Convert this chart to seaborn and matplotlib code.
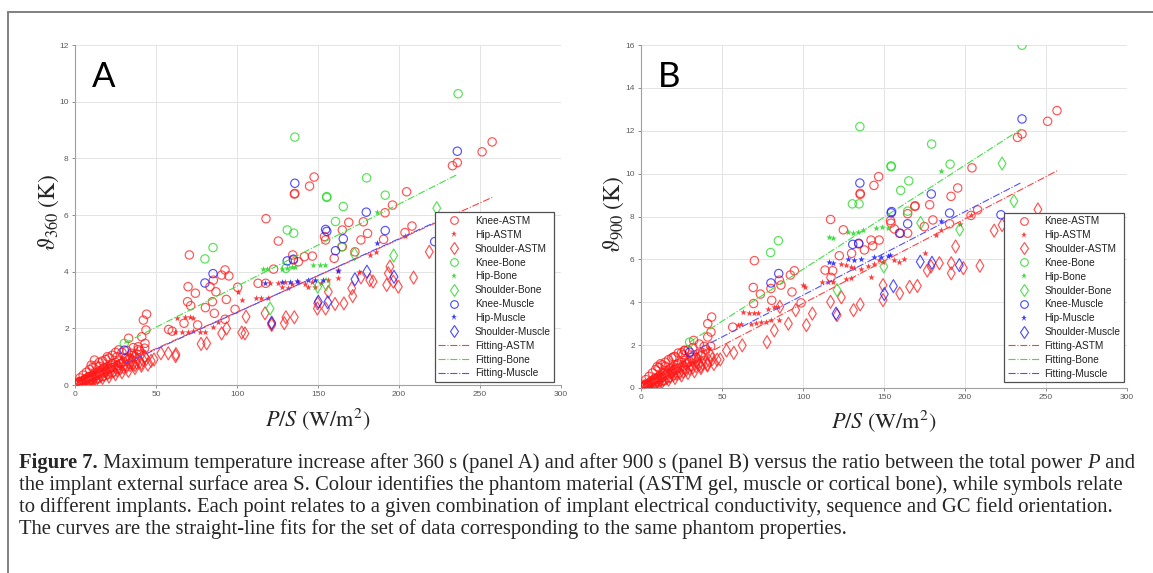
import matplotlib
matplotlib.use("Agg")
import matplotlib.pyplot as plt
import seaborn as sns
from matplotlib.lines import Line2D
from matplotlib.patches import Rectangle

# ---------------- Panel A : theta_360 (K) vs P/S (W/m2) ----------------
a_knee_astm_x = [1, 2, 3, 4, 5, 6, 7, 8, 9, 10, 11, 12, 13, 14, 15, 16, 17, 18, 19, 20, 21, 22, 23, 24, 25, 27, 29, 31, 33, 35, 37, 40, 43,
                 2.5, 4.5, 6.5, 8.5, 10.5, 12.5, 14.5, 16.5, 18.5, 20.5, 22.5, 26, 28, 30, 34, 38, 10, 12, 15, 20, 25, 27,
                 3, 5, 7, 9, 11, 13, 15, 17, 19, 21, 23, 26, 29, 32, 36, 39, 4, 6, 8, 11, 14, 17, 20, 23, 27, 31, 35,
                 33.1, 35, 39, 41.2, 43.2, 42.2, 43.8, 44.2, 57.8, 60, 67.3, 69.5, 69.8, 70.6, 71.4, 74.3, 75.7, 80.5, 83.3, 84.8,
                 85.4, 86, 87, 90.5, 92.6, 92.6, 93.4, 95, 98.8, 100.4, 113, 117.7, 117.9, 122.6, 125.5, 134.4, 134.8, 135.4,
                 135.7, 137.9, 141.6, 144.8, 146.5, 147.6, 154, 154.7, 160, 165, 165, 169, 172.8, 176.5, 178, 180.6, 190.5,
                 191.4, 196, 203.7, 204.7, 208, 233, 236, 251.3, 257.5]
a_knee_astm_y = [0.03, 0.06, 0.10, 0.12, 0.15, 0.20, 0.18, 0.25, 0.30, 0.28, 0.35, 0.40, 0.33, 0.45, 0.50, 0.42, 0.55, 0.60, 0.50, 0.65,
                 0.58, 0.70, 0.75, 0.62, 0.80, 0.85, 0.78, 0.95, 0.90, 1.05, 1.00, 1.20, 1.30,
                 0.12, 0.10, 0.22, 0.30, 0.20, 0.32, 0.38, 0.50, 0.45, 0.55, 0.62, 0.68, 0.75, 0.82, 0.95, 1.10, 0.70, 0.88, 0.80, 1.00, 1.15, 1.24,
                 0.25, 0.35, 0.45, 0.55, 0.62, 0.70, 0.66, 0.85, 0.90, 0.95, 1.05, 1.00, 1.15, 1.22, 1.32, 1.25, 0.02, 0.05, 0.10, 0.15, 0.22, 0.30, 0.38, 0.45, 0.55, 0.65, 0.72,
                 1.65, 1.12, 1.35, 1.70, 1.47, 2.29, 1.94, 2.50, 1.96, 1.90, 2.18, 2.94, 3.47, 4.59, 2.80, 3.24, 2.12, 2.73, 3.47, 2.94,
                 3.70, 2.53, 3.29, 3.88, 4.06, 2.32, 3.02, 3.85, 2.67, 3.45, 3.59, 3.59, 5.87, 4.09, 5.08, 4.59, 4.41, 6.74,
                 6.76, 4.35, 4.53, 7.02, 4.55, 7.34, 5.24, 5.12, 4.47, 5.47, 4.88, 5.74, 4.70, 5.12, 5.76, 5.35, 5.14,
                 6.08, 6.35, 5.38, 6.82, 5.61, 7.74, 7.85, 8.23, 8.58]

a_hip_astm_x = [1.5, 3, 5, 7, 9, 11, 13, 15, 17, 19, 21, 24, 27, 30, 33, 36, 4, 8, 12, 16, 20, 25, 29, 34, 38, 42,
                61.7, 65.8, 70, 73, 77, 80, 62.8, 67.9, 71, 73, 85.4, 88.5, 100.8, 103, 112, 115, 119, 120.4, 125.5, 129.6,
                133.7, 137.9, 142, 146, 152, 156, 162.5, 127.6, 131.7, 144, 148, 162.5, 175, 182, 186, 203.7]
a_hip_astm_y = [0.05, 0.08, 0.14, 0.20, 0.25, 0.30, 0.36, 0.42, 0.46, 0.52, 0.58, 0.66, 0.72, 0.80, 0.88, 0.95,
                0.15, 0.30, 0.45, 0.55, 0.70, 0.80, 0.95, 1.05, 1.10, 1.20,
                1.88, 1.88, 1.86, 1.90, 1.88, 1.86, 2.38, 2.40, 2.40, 2.36, 2.06, 2.24, 3.29, 3.00, 3.06, 3.06, 3.08, 3.60, 3.60, 3.62,
                3.58, 3.62, 3.58, 3.62, 3.60, 3.70, 3.76, 3.47, 3.42, 3.47, 3.47, 4.06, 4.00, 4.59, 4.70, 5.26]

a_sh_astm_x = [2, 4, 6, 8, 10, 12, 14, 16, 18, 20, 22, 24, 26, 28, 30, 32, 34, 36, 38, 40, 42, 44, 37, 41,
               5, 9, 13, 17, 21, 25, 29, 33, 37, 41, 45, 47, 11, 19, 27, 35, 43,
               48.8, 53, 57.6, 62.3, 62.1, 77.8, 81.3, 90.5, 93.6, 102.9, 104.9, 105.6, 117.3, 121.4, 121.4, 129.2, 130.2,
               135.4, 149.6, 149.8, 154.7, 156.4, 160.5, 166, 170.8, 171.4, 176.5, 182, 184, 192.4, 193.4, 194.4, 196.5,
               199.6, 209, 218.7]
a_sh_astm_y = [0.04, 0.08, 0.12, 0.16, 0.20, 0.24, 0.27, 0.32, 0.36, 0.40, 0.45, 0.48, 0.52, 0.58, 0.62, 0.66, 0.70, 0.75, 0.78, 0.82,
               0.88, 0.92, 0.70, 0.76,
               0.05, 0.12, 0.18, 0.25, 0.30, 0.38, 0.45, 0.50, 0.60, 0.68, 0.72, 0.85, 0.28, 0.48, 0.62, 0.85, 1.00,
               0.90, 1.12, 1.12, 1.09, 1.02, 1.45, 1.47, 1.82, 2.00, 1.85, 1.82, 2.41, 2.53, 2.12, 2.16, 2.18, 2.39,
               2.39, 2.70, 2.88, 2.70, 3.29, 2.86, 2.88, 3.41, 3.14, 3.80, 3.70, 3.65, 3.53, 3.94, 4.18, 3.65,
               3.47, 3.79, 4.70]

a_knee_bone_x = [30.4, 80.2, 85.2, 130.2, 131, 135, 135.7, 155.4, 155.4, 160.8, 164.6, 165.6, 180, 191.5, 236.5]
a_knee_bone_y = [1.47, 4.45, 4.85, 4.12, 5.47, 5.36, 8.75, 6.62, 6.65, 5.77, 4.88, 6.30, 7.31, 6.70, 10.28]
a_hip_bone_x = [116.3, 118.3, 127.6, 130.7, 133.7, 135.8, 147, 151, 154.4, 186.2]
a_hip_bone_y = [4.08, 4.08, 4.10, 4.12, 4.15, 4.15, 4.24, 4.24, 4.22, 6.12]
a_sh_bone_x = [120.4, 149.8, 155, 172.5, 196.7, 223.3]
a_sh_bone_y = [2.70, 3.47, 3.55, 4.62, 4.57, 6.24]

a_knee_mus_x = [30.4, 80.2, 85.2, 131, 134.8, 135.7, 154.7, 155.4, 160.8, 165.6, 179.8, 191.5, 222, 236]
a_knee_mus_y = [1.23, 3.60, 3.93, 4.38, 4.44, 7.12, 5.49, 5.42, 4.74, 5.16, 6.10, 5.45, 5.06, 8.25]
a_hip_mus_x = [117.3, 127.6, 132.7, 136.8, 144, 148, 153.3, 162.5, 186.2]
a_hip_mus_y = [3.60, 3.62, 3.65, 3.66, 3.70, 3.70, 3.72, 4.03, 5.00]
a_sh_mus_x = [121.4, 150.2, 156, 172.8, 180.2, 196.9]
a_sh_mus_y = [2.20, 2.94, 2.92, 3.73, 4.00, 3.82]

a_fit_astm_x, a_fit_astm_y = [0, 257.5], [0, 6.62]
a_fit_bone_x, a_fit_bone_y = [30.4, 236], [1.47, 7.43]
a_fit_mus_x, a_fit_mus_y = [30.4, 236], [0.75, 6.10]

# ---------------- Panel B : theta_900 (K) vs P/S (W/m2) ----------------
b_knee_astm_x = [1, 2, 3, 4, 5, 6, 7, 8, 9, 10, 11, 12, 13, 14, 15, 16, 17, 18, 19, 20, 21, 22, 23, 24, 25, 27, 29, 31, 33, 35, 37, 40, 43,
                 2.5, 4.5, 6.5, 8.5, 10.5, 12.5, 14.5, 16.5, 18.5, 20.5, 22.5, 26, 28, 30, 34, 38, 10, 12, 15, 20, 25, 27,
                 3, 5, 7, 9, 11, 13, 15, 17, 19, 21, 23, 26, 29, 32, 36, 39, 4, 6, 8, 11, 14, 17, 20, 23, 27, 31, 35,
                 26.7, 32.5, 41.2, 43.2, 41.2, 43.6, 56.6, 69.3, 69.5, 70, 73.7, 80.2, 80.7, 85.4, 86.4, 92.2, 93.2, 94.7, 98.8,
                 113.6, 117.3, 118.3, 117, 122.4, 124.9, 130, 134.4, 135.3, 135.3, 137.9, 142, 143, 143.8, 146.7, 147, 154,
                 154.3, 156.4, 159.5, 164.6, 164.6, 169, 169.2, 174.9, 178.2, 180.2, 190.5, 191.4, 195.5, 203.7, 204.3, 207.8,
                 232.4, 235.2, 251, 256.8]
b_knee_astm_y = [0.05, 0.09, 0.15, 0.18, 0.22, 0.30, 0.27, 0.38, 0.45, 0.42, 0.52, 0.60, 0.50, 0.68, 0.75, 0.63, 0.82, 0.90, 0.75, 0.98,
                 0.87, 1.05, 1.12, 0.93, 1.20, 1.28, 1.17, 1.42, 1.35, 1.58, 1.50, 1.80, 1.95,
                 0.18, 0.15, 0.33, 0.45, 0.30, 0.48, 0.57, 0.75, 0.68, 0.82, 0.93, 1.02, 1.12, 1.23, 1.42, 1.65, 1.00, 1.13, 1.20, 1.45, 1.65, 1.75,
                 0.39, 0.54, 0.70, 0.85, 0.96, 1.08, 1.02, 1.32, 1.40, 1.47, 1.63, 1.55, 1.78, 1.89, 2.05, 1.94, 0.03, 0.08, 0.16, 0.23, 0.34, 0.47, 0.59, 0.70, 0.85, 1.01, 1.12,
                 1.75, 2.22, 2.38, 2.61, 3.00, 3.31, 2.84, 4.69, 3.94, 5.94, 4.38, 4.64, 4.09, 5.03, 4.80, 5.27, 4.48, 5.47, 3.97,
                 5.50, 5.16, 5.47, 7.86, 6.17, 7.38, 6.28, 6.72, 9.03, 9.08, 6.44, 6.90, 6.63, 9.45, 9.86, 6.90, 7.81,
                 7.69, 7.42, 7.22, 7.22, 8.13, 8.47, 8.50, 7.53, 8.55, 7.84, 7.66, 8.94, 9.33, 8.05, 10.27, 8.31,
                 11.69, 11.85, 12.44, 12.94]

b_hip_astm_x = [1.5, 3, 5, 7, 9, 11, 13, 15, 17, 19, 21, 24, 27, 30, 33, 36, 4, 8, 12, 16, 20, 25, 29, 34, 38, 42,
                59.7, 61.7, 62.8, 66.9, 67.9, 70, 71, 72, 74, 77.2, 78.2, 80.2, 82.3, 84.4, 85.4, 99.8, 101.2, 112, 115.2,
                118.3, 123.5, 126.5, 129.6, 131.7, 135.8, 140, 144, 147, 149.2, 156.4, 159.5, 162.5, 126.5, 129.6, 142,
                175, 182, 185.2, 197, 203.7]
b_hip_astm_y = [0.07, 0.12, 0.20, 0.30, 0.37, 0.45, 0.53, 0.62, 0.68, 0.77, 0.86, 0.98, 1.07, 1.18, 1.30, 1.40,
                0.23, 0.47, 0.70, 0.85, 1.09, 1.24, 1.47, 1.63, 1.71, 1.86,
                2.92, 3.00, 3.55, 3.50, 3.00, 3.52, 3.02, 3.48, 3.08, 3.10, 3.70, 3.15, 3.78, 3.76, 3.16, 4.80, 4.72, 4.95, 4.95,
                4.93, 5.80, 5.72, 5.65, 5.62, 5.55, 5.70, 5.80, 5.95, 5.90, 5.95, 5.88, 6.00, 5.10, 5.15, 5.19,
                6.28, 7.14, 7.38, 7.66, 8.08]

b_sh_astm_x = [2, 4, 6, 8, 10, 12, 14, 16, 18, 20, 22, 24, 26, 28, 30, 32, 34, 36, 38, 40, 42, 44, 37, 41,
               5, 9, 13, 17, 21, 25, 29, 33, 37, 41, 45, 47, 11, 19, 27, 35, 43,
               48.9, 52.8, 57.3, 62.5, 77.8, 82.3, 85.7, 91, 95.5, 102.1, 105.8, 117, 121, 123.7, 131.2, 135.3, 149.4,
               149.4, 159.7, 165.8, 170.6, 176.7, 179, 184.2, 191.5, 191.5, 194.2, 199, 209.2, 218, 222.9, 245]
b_sh_astm_y = [0.06, 0.12, 0.18, 0.24, 0.30, 0.36, 0.40, 0.47, 0.53, 0.60, 0.66, 0.70, 0.76, 0.85, 0.90, 0.96, 1.02, 1.10, 1.14, 1.20,
               1.28, 1.35, 1.02, 1.10,
               0.08, 0.19, 0.28, 0.39, 0.47, 0.59, 0.70, 0.78, 0.93, 1.05, 1.12, 1.32, 0.43, 0.74, 0.96, 1.32, 1.55,
               1.33, 1.75, 1.64, 1.99, 2.14, 2.69, 3.79, 3.00, 3.63, 2.93, 3.47, 4.02, 3.40, 4.23, 3.63, 3.90, 4.80,
               4.10, 4.41, 4.72, 4.76, 5.48, 5.67, 5.82, 5.35, 5.82, 6.60, 5.59, 5.70, 7.34, 7.60, 8.33]

b_knee_bone_x = [30, 80, 84.8, 130.5, 134.6, 135.1, 154.4, 154.4, 160.3, 164.6, 165.3, 179.4, 190.8, 235.2]
b_knee_bone_y = [2.14, 6.32, 6.87, 8.59, 8.59, 12.19, 10.36, 10.32, 9.22, 8.25, 9.66, 11.38, 10.44, 15.99]
b_hip_bone_x = [116.3, 118.3, 127.6, 130.7, 133.7, 136.8, 145, 148.6, 152.3, 185.2]
b_hip_bone_y = [7.06, 7.02, 7.30, 7.25, 7.30, 7.35, 7.45, 7.50, 7.45, 10.10]
b_sh_bone_x = [121, 149.9, 172.6, 196.7, 222.9, 230.2]
b_sh_bone_y = [4.57, 5.67, 7.70, 7.39, 10.47, 8.72]

b_knee_mus_x = [30, 80.2, 85, 130.7, 134.4, 135.1, 154.7, 154.4, 160, 164.6, 179.2, 190.5, 222.2, 235.2]
b_knee_mus_y = [1.67, 4.90, 5.34, 6.70, 6.75, 9.56, 8.23, 8.17, 7.22, 7.66, 9.05, 8.16, 8.08, 12.55]
b_hip_mus_x = [116.3, 118.3, 128, 131.7, 135.8, 144, 148.1, 152.3, 153.9, 185.2]
b_hip_mus_y = [5.90, 5.81, 6.00, 5.97, 6.00, 6.10, 6.12, 6.15, 6.20, 7.81]
b_sh_mus_x = [120.4, 150.2, 155.8, 172.4, 179.6, 196.5]
b_sh_mus_y = [3.47, 4.38, 4.75, 5.89, 5.84, 5.73]

b_fit_astm_x, b_fit_astm_y = [0, 256.8], [0, 10.13]
b_fit_bone_x, b_fit_bone_y = [30, 234.7], [2.14, 12.08]
b_fit_mus_x, b_fit_mus_y = [30, 235.2], [1.60, 9.60]

series_labels = ["Knee-ASTM", "Hip-ASTM", "Shoulder-ASTM", "Knee-Bone", "Hip-Bone", "Shoulder-Bone",
                 "Knee-Muscle", "Hip-Muscle", "Shoulder-Muscle"]
fit_labels = ["Fitting-ASTM", "Fitting-Bone", "Fitting-Muscle"]
x_ticks = [0, 50, 100, 150, 200, 250, 300]
a_y_ticks = [0, 2, 4, 6, 8, 10, 12]
b_y_ticks = [0, 2, 4, 6, 8, 10, 12, 14, 16]

# ---------------- styling ----------------
sns.set_style("white")
plt.rcParams["font.family"] = ["Liberation Sans", "DejaVu Sans"]
plt.rcParams["mathtext.fontset"] = "stix"

RED, GREEN, BLUE = "#ff1a1a", "#1fd81f", "#1a1aff"
FIT_COLORS = ["#ff4040", "#40e040", "#5050ff"]
mat_colors = [RED, RED, RED, GREEN, GREEN, GREEN, BLUE, BLUE, BLUE]
markers = ["o", "*", "d", "o", "*", "d", "o", "*", "d"]

fig = plt.figure(figsize=(11.53, 5.73), dpi=100)
W, H = 1153.0, 573.0

# outer frame
fig.patches.append(Rectangle((8 / W, -0.1), 1.2, (H - 12) / H + 0.1, transform=fig.transFigure,
                             fill=False, edgecolor="#808080", linewidth=1.4))

axA = fig.add_axes([75 / W, (H - 385) / H, 486 / W, 340 / H])
axB = fig.add_axes([641 / W, (H - 388) / H, 486 / W, 343 / H])


def draw_panel(ax, data, fits, yticks, ymax, letter, leg_anchor):
    for (xs, ys), col, mk in zip(data, mat_colors, markers):
        if mk == "*":
            sns.scatterplot(x=xs, y=ys, ax=ax, marker="*", s=24, color=col, linewidth=0, alpha=0.85, zorder=3)
        else:
            sns.scatterplot(x=xs, y=ys, ax=ax, marker=mk, s=36 if mk == "o" else 44, color=col, zorder=3)
            coll = ax.collections[-1]
            coll.set_facecolor("none")
            coll.set_edgecolor(col)
            coll.set_linewidth(0.85)
            coll.set_alpha(0.75)
    for (fx, fy), col in zip(fits, FIT_COLORS):
        ax.plot(fx, fy, linestyle="-.", color=col, linewidth=0.8, zorder=4)

    ax.set_xlim(0, 300)
    ax.set_ylim(0, ymax)
    ax.set_xticks(x_ticks)
    ax.set_yticks(yticks)
    ax.grid(True, color="#e4e4e4", linewidth=0.7)
    ax.set_axisbelow(True)
    for s in ["top", "right"]:
        ax.spines[s].set_visible(False)
    for s in ["left", "bottom"]:
        ax.spines[s].set_color("#a0a0a0")
        ax.spines[s].set_linewidth(0.8)
    ax.tick_params(axis="both", labelsize=6, colors="#808080", labelcolor="#5a5a5a",
                   length=2.5, width=0.6, direction="out", pad=2, left=True, bottom=True)

    ax.text(0.034, 0.877, letter, transform=ax.transAxes, fontsize=25, family=["Lato", "DejaVu Sans"],
            va="baseline", ha="left", color="black")

    handles = []
    for lab, col, mk in zip(series_labels, mat_colors, markers):
        if mk == "*":
            handles.append(Line2D([], [], linestyle="none", marker="*", markersize=5, color=col,
                                  markeredgewidth=0, alpha=0.85, label=lab))
        else:
            handles.append(Line2D([], [], linestyle="none", marker=mk, markersize=5.5 if mk == "o" else 6,
                                  markerfacecolor="none", markeredgecolor=col, markeredgewidth=0.8,
                                  alpha=0.8, label=lab))
    for lab, col in zip(fit_labels, FIT_COLORS):
        handles.append(Line2D([], [], linestyle="-.", color=col, linewidth=0.8, label=lab))
    leg = ax.legend(handles=handles, loc="lower right", bbox_to_anchor=leg_anchor, fontsize=7.3,
                    frameon=True, fancybox=False, edgecolor="#505050", framealpha=1,
                    borderpad=0.35, labelspacing=0.38, handlelength=3.1, handletextpad=0.5,
                    borderaxespad=0.0)
    leg.get_frame().set_linewidth(0.9)
    for t in leg.get_texts():
        t.set_color("#222222")
    leg.set_zorder(10)


dataA = [(a_knee_astm_x, a_knee_astm_y), (a_hip_astm_x, a_hip_astm_y), (a_sh_astm_x, a_sh_astm_y),
         (a_knee_bone_x, a_knee_bone_y), (a_hip_bone_x, a_hip_bone_y), (a_sh_bone_x, a_sh_bone_y),
         (a_knee_mus_x, a_knee_mus_y), (a_hip_mus_x, a_hip_mus_y), (a_sh_mus_x, a_sh_mus_y)]
fitsA = [(a_fit_astm_x, a_fit_astm_y), (a_fit_bone_x, a_fit_bone_y), (a_fit_mus_x, a_fit_mus_y)]
dataB = [(b_knee_astm_x, b_knee_astm_y), (b_hip_astm_x, b_hip_astm_y), (b_sh_astm_x, b_sh_astm_y),
         (b_knee_bone_x, b_knee_bone_y), (b_hip_bone_x, b_hip_bone_y), (b_sh_bone_x, b_sh_bone_y),
         (b_knee_mus_x, b_knee_mus_y), (b_hip_mus_x, b_hip_mus_y), (b_sh_mus_x, b_sh_mus_y)]
fitsB = [(b_fit_astm_x, b_fit_astm_y), (b_fit_bone_x, b_fit_bone_y), (b_fit_mus_x, b_fit_mus_y)]

draw_panel(axA, dataA, fitsA, a_y_ticks, 12, "A", (0.986, 0.009))
draw_panel(axB, dataB, fitsB, b_y_ticks, 16, "B", (0.994, 0.017))

# axis labels (serif, like the original)
fig.text(49 / W, 1 - 212 / H, r"$\vartheta_{360}\;(\mathrm{K})$", rotation=90, ha="center", va="center", fontsize=17)
fig.text(614 / W, 1 - 214 / H, r"$\vartheta_{900}\;(\mathrm{K})$", rotation=90, ha="center", va="center", fontsize=17)
fig.text(318 / W, 1 - 419 / H, r"$P/S\ (\mathrm{W/m}^{2})$", ha="center", va="center", fontsize=16)
fig.text(884 / W, 1 - 421 / H, r"$P/S\ (\mathrm{W/m}^{2})$", ha="center", va="center", fontsize=16)

# caption
cap_fs = 14.9
serif = ["Liberation Serif", "DejaVu Serif"]
x0 = 19 / W
base = [468, 490, 512, 534]
t_bold = fig.text(x0, 1 - base[0] / H, "Figure 7.", fontsize=cap_fs, family=serif, weight="bold", va="baseline")
a1 = plt.annotate(" Maximum temperature increase after 360 s (panel A) and after 900 s (panel B) versus the ratio between the total power ",
                  xy=(1, 0), xycoords=t_bold, va="bottom", ha="left", fontsize=cap_fs, family=serif,
                  annotation_clip=False)
a2 = plt.annotate("P", xy=(1, 0), xycoords=a1, va="bottom", ha="left", fontsize=cap_fs, family=serif,
                  style="italic", annotation_clip=False)
plt.annotate(" and", xy=(1, 0), xycoords=a2, va="bottom", ha="left", fontsize=cap_fs, family=serif,
             annotation_clip=False)
fig.text(x0, 1 - base[1] / H, "the implant external surface area S. Colour identifies the phantom material (ASTM gel, muscle or cortical bone), while symbols relate",
         fontsize=cap_fs, family=serif, va="baseline")
fig.text(x0, 1 - base[2] / H, "to different implants. Each point relates to a given combination of implant electrical conductivity, sequence and GC field orientation.",
         fontsize=cap_fs, family=serif, va="baseline")
fig.text(x0, 1 - base[3] / H, "The curves are the straight-line fits for the set of data corresponding to the same phantom properties.",
         fontsize=cap_fs, family=serif, va="baseline")

fig.savefig("out.png", dpi=100)
